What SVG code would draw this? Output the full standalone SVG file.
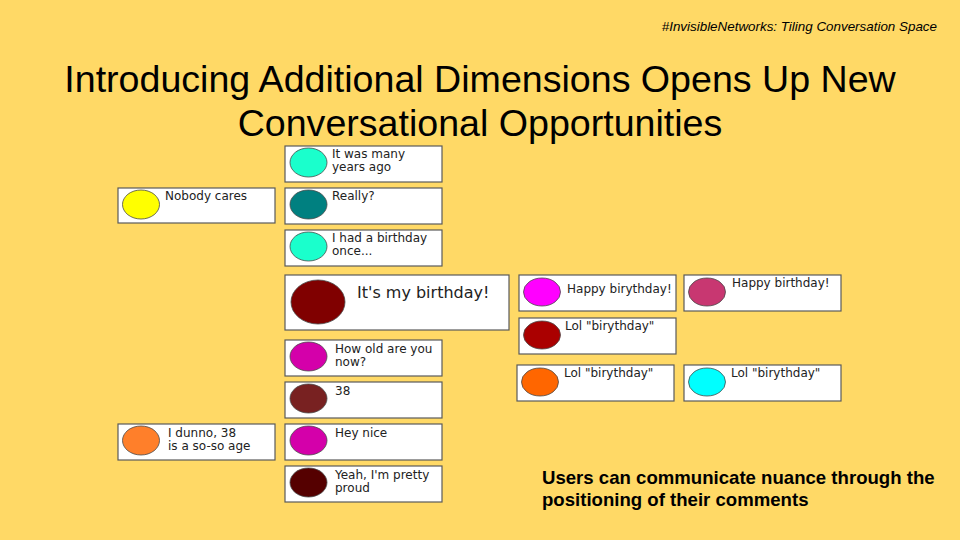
<svg xmlns="http://www.w3.org/2000/svg" width="960" height="540" viewBox="0 0 960 540">
  <style>
    .box { fill: #ffffff; stroke: #5a5a5a; stroke-width: 1.2; }
    .av { stroke: #4a4a4a; stroke-width: 0.8; }
    .msg { font-family: "DejaVu Sans", sans-serif; font-size: 12px; fill: #222222; }
    .big { font-size: 16px; }
    .title { font-family: "Liberation Sans", Arial, sans-serif; font-size: 37.6px; fill: #000000; text-anchor: middle; }
    .tag { font-family: "Liberation Sans", Arial, sans-serif; font-size: 13.4px; font-style: italic; fill: #000000; text-anchor: end; }
    .note { font-family: "Liberation Sans", Arial, sans-serif; font-size: 18.6px; font-weight: bold; fill: #000000; }
  </style>
  <rect width="960" height="540" fill="#ffd966"/>

  <text class="tag" x="937" y="31">#InvisibleNetworks: Tiling Conversation Space</text>
  <text class="title" x="480" y="92">Introducing Additional Dimensions Opens Up New</text>
  <text class="title" x="480" y="136">Conversational Opportunities</text>

  <!-- main thread column -->
  <g id="n-many-years">
    <rect class="box" x="285" y="146" width="157" height="36"/>
    <ellipse class="av" cx="308.5" cy="162.5" rx="18.5" ry="14.5" fill="#1affcc"/>
    <text class="msg" x="332" y="158">It was many</text>
    <text class="msg" x="332" y="171">years ago</text>
  </g>
  <g id="n-really">
    <rect class="box" x="285" y="188" width="157" height="36"/>
    <ellipse class="av" cx="308.5" cy="204.5" rx="18.5" ry="14.5" fill="#008080"/>
    <text class="msg" x="332" y="200">Really?</text>
  </g>
  <g id="n-had-birthday">
    <rect class="box" x="285" y="230" width="157" height="36"/>
    <ellipse class="av" cx="308.5" cy="246.5" rx="18.5" ry="14.5" fill="#1affcc"/>
    <text class="msg" x="332" y="242">I had a birthday</text>
    <text class="msg" x="332" y="255">once...</text>
  </g>
  <g id="n-my-birthday">
    <rect class="box" x="285" y="275" width="224" height="55"/>
    <ellipse class="av" cx="318" cy="302" rx="27" ry="22" fill="#800000"/>
    <text class="msg big" x="357" y="298">It's my birthday!</text>
  </g>
  <g id="n-how-old">
    <rect class="box" x="285" y="340" width="157" height="36"/>
    <ellipse class="av" cx="308.5" cy="356.5" rx="18.5" ry="14.5" fill="#d400aa"/>
    <text class="msg" x="335" y="353">How old are you</text>
    <text class="msg" x="335" y="366">now?</text>
  </g>
  <g id="n-38">
    <rect class="box" x="285" y="382" width="157" height="36"/>
    <ellipse class="av" cx="308.5" cy="398.5" rx="18.5" ry="14.5" fill="#782121"/>
    <text class="msg" x="335" y="395">38</text>
  </g>
  <g id="n-hey-nice">
    <rect class="box" x="285" y="424" width="157" height="36"/>
    <ellipse class="av" cx="308.5" cy="440.5" rx="18.5" ry="14.5" fill="#d400aa"/>
    <text class="msg" x="335" y="437">Hey nice</text>
  </g>
  <g id="n-pretty-proud">
    <rect class="box" x="285" y="466" width="157" height="36"/>
    <ellipse class="av" cx="308.5" cy="482.5" rx="18.5" ry="14.5" fill="#550000"/>
    <text class="msg" x="335" y="479">Yeah, I'm pretty</text>
    <text class="msg" x="335" y="492">proud</text>
  </g>

  <!-- side comments, left -->
  <g id="n-nobody-cares">
    <rect class="box" x="118" y="188" width="157" height="35"/>
    <ellipse class="av" cx="141" cy="204.5" rx="18.5" ry="14.5" fill="#ffff00"/>
    <text class="msg" x="165" y="200">Nobody cares</text>
  </g>
  <g id="n-so-so">
    <rect class="box" x="118" y="424" width="157" height="36"/>
    <ellipse class="av" cx="141" cy="440.5" rx="18.5" ry="14.5" fill="#ff7f2a"/>
    <text class="msg" x="168" y="437">I dunno, 38</text>
    <text class="msg" x="168" y="450">is a so-so age</text>
  </g>

  <!-- side comments, right -->
  <g id="n-happy-birythday">
    <rect class="box" x="519" y="275" width="157" height="36"/>
    <ellipse class="av" cx="542" cy="292" rx="18.5" ry="14" fill="#ff00ff"/>
    <text class="msg" x="567" y="293">Happy birythday!</text>
  </g>
  <g id="n-happy-birthday">
    <rect class="box" x="684" y="275" width="157" height="36"/>
    <ellipse class="av" cx="707" cy="292" rx="18.5" ry="14" fill="#c83771"/>
    <text class="msg" x="732" y="287">Happy birthday!</text>
  </g>
  <g id="n-lol-1">
    <rect class="box" x="519" y="318" width="157" height="36"/>
    <ellipse class="av" cx="542" cy="335" rx="18.5" ry="14" fill="#aa0000"/>
    <text class="msg" x="565" y="330">Lol "birythday"</text>
  </g>
  <g id="n-lol-2">
    <rect class="box" x="517" y="365" width="157" height="36"/>
    <ellipse class="av" cx="540" cy="382" rx="18.5" ry="14" fill="#ff6600"/>
    <text class="msg" x="564" y="377">Lol "birythday"</text>
  </g>
  <g id="n-lol-3">
    <rect class="box" x="684" y="365" width="157" height="36"/>
    <ellipse class="av" cx="707" cy="382" rx="18.5" ry="14" fill="#00ffff"/>
    <text class="msg" x="731" y="377">Lol "birythday"</text>
  </g>

  <g id="connectors"></g>

  <text class="note" x="542" y="484">Users can communicate nuance through the</text>
  <text class="note" x="542" y="506">positioning of their comments</text>
</svg>
